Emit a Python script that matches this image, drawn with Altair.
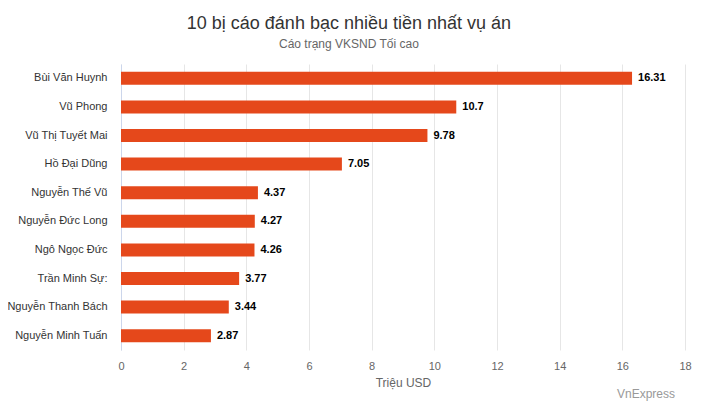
import altair as alt
import pandas as pd

names = [
    "Bùi Văn Huynh",
    "Vũ Phong",
    "Vũ Thị Tuyết Mai",
    "Hồ Đại Dũng",
    "Nguyễn Thế Vũ",
    "Nguyễn Đức Long",
    "Ngô Ngọc Đức",
    "Trần Minh Sự:",
    "Nguyễn Thanh Bách",
    "Nguyễn Minh Tuấn",
]
amounts = [16.31, 10.7, 9.78, 7.05, 4.37, 4.27, 4.26, 3.77, 3.44, 2.87]
x_ticks = [0, 2, 4, 6, 8, 10, 12, 14, 16, 18]

df = pd.DataFrame({"name": names, "amount": amounts})
FONT = "Liberation Sans"

x = alt.X(
    "amount:Q",
    title="Triệu USD",
    scale=alt.Scale(domain=[0, 18], nice=False),
    axis=alt.Axis(
        values=x_ticks,
        grid=True,
        gridColor="#e6e6e6",
        domain=False,
        ticks=False,
        labelFlush=False,
        labelColor="#666666",
        labelFontSize=11,
        labelPadding=10,
        labelFont=FONT,
        titleColor="#666666",
        titleFontSize=12,
        titleFontWeight="normal",
        titleFont=FONT,
        titlePadding=6,
    ),
)
y = alt.Y(
    "name:N",
    sort=names,
    title=None,
    scale=alt.Scale(paddingInner=0, paddingOuter=0),
    axis=alt.Axis(
        domainColor="#ccd6eb",
        ticks=False,
        labelColor="#333333",
        labelFontSize=11,
        labelFont=FONT,
        labelPadding=14,
    ),
)

bars = alt.Chart(df).mark_bar(color="#e5481b", size=13).encode(x=x, y=y)
labels = (
    alt.Chart(df)
    .mark_text(align="left", dx=6, fontWeight="bold", fontSize=11, font=FONT, color="#000000")
    .encode(x="amount:Q", y=alt.Y("name:N", sort=names), text="amount:Q")
)
credit = (
    alt.Chart(pd.DataFrame({"t": ["VnExpress"]}))
    .mark_text(align="right", baseline="middle", fontSize=12, font=FONT, color="#999999")
    .encode(x=alt.value(554), y=alt.value(330), text="t:N")
)

chart = (
    alt.layer(bars, labels, credit)
    .properties(
        width=564,
        height=286,
        background="white",
        padding={"left": 113, "top": 56, "right": 12, "bottom": 54},
        autosize=alt.AutoSizeParams(type="none"),
        title=alt.TitleParams(
            "10 bị cáo đánh bạc nhiều tiền nhất vụ án",
            subtitle="Cáo trạng VKSND Tối cao",
            anchor="middle",
            frame="bounds",
            font=FONT,
            fontSize=18,
            fontWeight="normal",
            color="#333333",
            subtitleFont=FONT,
            subtitleFontSize=12,
            subtitleColor="#666666",
            subtitlePadding=6,
            offset=14,
        ),
    )
    .configure_view(stroke=None)
)

chart.save("out.html", embed_options={"renderer": "svg", "actions": False})
